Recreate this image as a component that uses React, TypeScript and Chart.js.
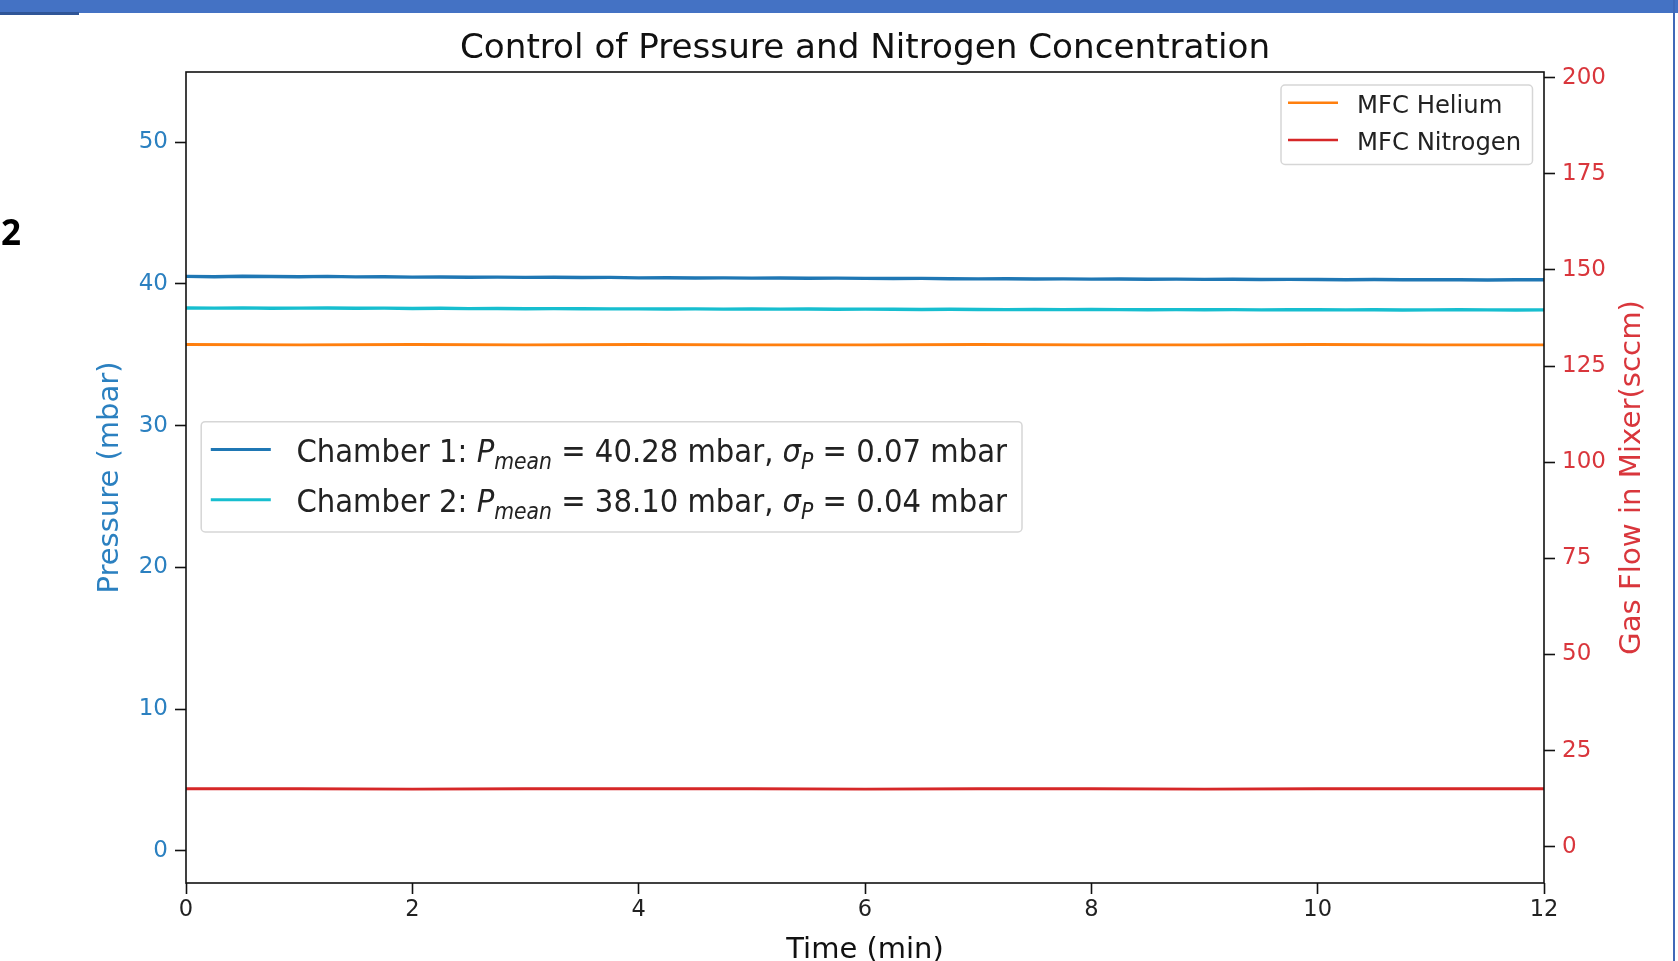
import React, { useEffect, useRef } from "react";
import { Chart, registerables } from "chart.js";

Chart.register(...registerables);

// ---------- data ----------
const chamberTimes = [
  0, 0.25, 0.5, 0.75, 1, 1.25, 1.5, 1.75,
  2, 2.25, 2.5, 2.75, 3, 3.25, 3.5, 3.75,
  4, 4.25, 4.5, 4.75, 5, 5.25, 5.5, 5.75,
  6, 6.25, 6.5, 6.75, 7, 7.25, 7.5, 7.75,
  8, 8.25, 8.5, 8.75, 9, 9.25, 9.5, 9.75,
  10, 10.25, 10.5, 10.75, 11, 11.25, 11.5, 11.75,
  12,
];
const chamber1Pressure = [
  40.52, 40.5, 40.53, 40.51, 40.5, 40.52, 40.49, 40.5,
  40.47, 40.48, 40.46, 40.47, 40.45, 40.46, 40.44, 40.45,
  40.42, 40.43, 40.41, 40.42, 40.4, 40.41, 40.39, 40.4,
  40.38, 40.37, 40.38, 40.36, 40.35, 40.36, 40.34, 40.35,
  40.33, 40.34, 40.32, 40.33, 40.31, 40.32, 40.3, 40.31,
  40.3, 40.29, 40.3, 40.28, 40.29, 40.28, 40.27, 40.28,
  40.28,
];
const chamber2Pressure = [
  38.29, 38.28, 38.3, 38.27, 38.28, 38.29, 38.27, 38.28,
  38.26, 38.27, 38.25, 38.26, 38.24, 38.25, 38.24, 38.23,
  38.23, 38.22, 38.23, 38.21, 38.22, 38.21, 38.22, 38.2,
  38.21, 38.2, 38.19, 38.2, 38.19, 38.18, 38.19, 38.18,
  38.19, 38.18, 38.17, 38.18, 38.17, 38.18, 38.16, 38.17,
  38.17, 38.16, 38.17, 38.15, 38.16, 38.17, 38.16, 38.15,
  38.16,
];
const mfcTimes = [0, 1, 2, 3, 4, 5, 6, 7, 8, 9, 10, 11, 12];
const mfcHelium = [130.6, 130.5, 130.6, 130.5, 130.6, 130.5, 130.5, 130.6, 130.5, 130.5, 130.6, 130.5, 130.5];
const mfcNitrogen = [15.1, 15.1, 15.0, 15.1, 15.1, 15.1, 15.0, 15.1, 15.1, 15.0, 15.1, 15.1, 15.1];

const chamberMeans = [40.28, 38.1];
const chamberStd = [0.07, 0.04];
const chamberNames = ["Chamber 1", "Chamber 2"];
const mfcNames = ["MFC Helium", "MFC Nitrogen"];

const xTicks = [0, 2, 4, 6, 8, 10, 12];
const leftTicks = [0, 10, 20, 30, 40, 50];
const rightTicks = [0, 25, 50, 75, 100, 125, 150, 175, 200];

const TITLE = "Control of Pressure and Nitrogen Concentration";
const X_TITLE = "Time (min)";
const Y_LEFT_TITLE = "Pressure (mbar)";
const Y_RIGHT_TITLE = "Gas Flow in Mixer(sccm)";

// ---------- styles ----------
const C1 = "#1f77b4";
const C2 = "#17becf";
const CHE = "#ff7f0e";
const CN2 = "#d62728";
const BLUE_TXT = "#2b80c0";
const RED_TXT = "#d9363c";
const FONT = "'DejaVu Sans'";
const COND = "'DejaVu Sans Condensed', 'DejaVu Sans'";

type Seg = { t: string; it?: boolean; sub?: boolean };

function drawRich(ctx: CanvasRenderingContext2D, segs: Seg[], x: number, y: number, size: number, targetW: number) {
  const fontFor = (s: Seg) => `${s.it ? "italic " : ""}${s.sub ? size * 0.7 : size}px ${COND}`;
  let total = 0;
  for (const s of segs) {
    ctx.font = fontFor(s);
    total += ctx.measureText(s.t).width;
  }
  const sx = targetW / total;
  ctx.save();
  ctx.translate(x, y);
  ctx.scale(sx, 1);
  let cx = 0;
  ctx.textAlign = "left";
  ctx.textBaseline = "alphabetic";
  for (const s of segs) {
    ctx.font = fontFor(s);
    ctx.fillText(s.t, cx, s.sub ? size * 0.22 : 0);
    cx += ctx.measureText(s.t).width;
  }
  ctx.restore();
}

function legendBox(ctx: CanvasRenderingContext2D, x0: number, y0: number, x1: number, y1: number) {
  ctx.save();
  ctx.beginPath();
  (ctx as any).roundRect(x0, y0, x1 - x0, y1 - y0, 4);
  ctx.fillStyle = "rgba(255,255,255,0.85)";
  ctx.fill();
  ctx.strokeStyle = "#d6d6d6";
  ctx.lineWidth = 1.5;
  ctx.stroke();
  ctx.restore();
}

const overlayPlugin = {
  id: "overlay",
  afterDraw(chart: any) {
    const ctx: CanvasRenderingContext2D = chart.ctx;
    const a = chart.chartArea;
    const midX = (a.left + a.right) / 2;
    const midY = (a.top + a.bottom) / 2;
    const ds = chart.data.datasets;
    ctx.save();
    // frame
    ctx.strokeStyle = "#111";
    ctx.lineWidth = 1.6;
    ctx.strokeRect(a.left, a.top, a.right - a.left, a.bottom - a.top);

    // title & axis titles
    ctx.fillStyle = "#111";
    ctx.textAlign = "center";
    ctx.textBaseline = "alphabetic";
    ctx.font = `34.2px ${FONT}`;
    ctx.fillText(TITLE, midX, 57.5);
    ctx.font = `29px ${FONT}`;
    ctx.fillText(X_TITLE, midX, 957.5);

    ctx.save();
    ctx.translate(118, midY);
    ctx.rotate(-Math.PI / 2);
    ctx.fillStyle = BLUE_TXT;
    ctx.font = `29px ${FONT}`;
    ctx.fillText(Y_LEFT_TITLE, 0, 0);
    ctx.restore();

    ctx.save();
    ctx.translate(1639.5, midY);
    ctx.rotate(-Math.PI / 2);
    ctx.fillStyle = RED_TXT;
    ctx.font = `29.2px ${FONT}`;
    ctx.fillText(Y_RIGHT_TITLE, 0, 0);
    ctx.restore();

    // MFC legend (top right)
    legendBox(ctx, 1281, 85, 1532.5, 164.5);
    const mfcRows = [102.7, 140];
    const mfcBase = [113.3, 150];
    for (let i = 0; i < 2; i++) {
      ctx.strokeStyle = ds[2 + i].borderColor;
      ctx.lineWidth = 2.6;
      ctx.beginPath();
      ctx.moveTo(1288, mfcRows[i]);
      ctx.lineTo(1338, mfcRows[i]);
      ctx.stroke();
      ctx.fillStyle = "#222";
      ctx.textAlign = "left";
      ctx.font = `24.3px ${FONT}`;
      ctx.fillText(mfcNames[i], 1357, mfcBase[i]);
    }

    // Chamber legend (middle left)
    legendBox(ctx, 201.2, 421.7, 1022, 532);
    const chRows = [449.5, 499.8];
    const chBase = [461.5, 512];
    for (let i = 0; i < 2; i++) {
      ctx.strokeStyle = ds[i].borderColor;
      ctx.lineWidth = 3;
      ctx.beginPath();
      ctx.moveTo(210.8, chRows[i]);
      ctx.lineTo(270.8, chRows[i]);
      ctx.stroke();
      ctx.fillStyle = "#222";
      const segs: Seg[] = [
        { t: `${chamberNames[i]}: ` },
        { t: "P", it: true },
        { t: "mean", it: true, sub: true },
        { t: ` = ${chamberMeans[i].toFixed(2)} mbar, ` },
        { t: "σ", it: true },
        { t: "P", it: true, sub: true },
        { t: ` = ${chamberStd[i].toFixed(2)} mbar` },
      ];
      drawRich(ctx, segs, 296.4, chBase[i], 32, 710.6);
    }
    ctx.restore();
  },
};

function toPoints(xs: number[], ys: number[]) {
  return xs.map((x, i) => ({ x, y: ys[i] }));
}

export default function App() {
  const ref = useRef<HTMLCanvasElement | null>(null);
  useEffect(() => {
    if (!ref.current) return;
    const chart = new Chart(ref.current, {
      type: "line",
      data: {
        datasets: [
          { label: chamberNames[0], data: toPoints(chamberTimes, chamber1Pressure), borderColor: C1, borderWidth: 3.4, pointRadius: 0, yAxisID: "y", tension: 0 },
          { label: chamberNames[1], data: toPoints(chamberTimes, chamber2Pressure), borderColor: C2, borderWidth: 3.4, pointRadius: 0, yAxisID: "y", tension: 0 },
          { label: mfcNames[0], data: toPoints(mfcTimes, mfcHelium), borderColor: CHE, borderWidth: 2.8, pointRadius: 0, yAxisID: "y1", tension: 0 },
          { label: mfcNames[1], data: toPoints(mfcTimes, mfcNitrogen), borderColor: CN2, borderWidth: 2.8, pointRadius: 0, yAxisID: "y1", tension: 0 },
        ],
      },
      options: {
        animation: false,
        responsive: false,
        devicePixelRatio: 1,
        events: [],
        layout: { padding: { top: 72, left: 0, right: 0, bottom: 0 } },
        plugins: { legend: { display: false }, title: { display: false }, tooltip: { enabled: false } },
        scales: {
          x: {
            type: "linear",
            min: 0,
            max: 12,
            afterBuildTicks: (s: any) => { s.ticks = xTicks.map((v) => ({ value: v })); },
            afterFit: (s: any) => { s.height = 78; },
            grid: { drawOnChartArea: false, drawTicks: true, tickLength: 11, tickColor: "#111", tickWidth: 1.6 },
            border: { display: false },
            ticks: { color: "#222", font: { family: "DejaVu Sans", size: 22.5 }, padding: 3, maxRotation: 0, autoSkip: false },
          },
          y: {
            type: "linear",
            position: "left",
            min: -2.27,
            max: 54.94,
            afterBuildTicks: (s: any) => { s.ticks = leftTicks.map((v) => ({ value: v })); },
            afterFit: (s: any) => { s.width = 186; },
            grid: { drawOnChartArea: false, drawTicks: true, tickLength: 11, tickColor: "#111", tickWidth: 1.6 },
            border: { display: false },
            ticks: { color: BLUE_TXT, font: { family: "DejaVu Sans", size: 23 }, padding: 7, autoSkip: false },
          },
          y1: {
            type: "linear",
            position: "right",
            min: -9.4,
            max: 201.45,
            afterBuildTicks: (s: any) => { s.ticks = rightTicks.map((v) => ({ value: v })); },
            afterFit: (s: any) => { s.width = 134; },
            grid: { drawOnChartArea: false, drawTicks: true, tickLength: 11, tickColor: "#111", tickWidth: 1.6 },
            border: { display: false },
            ticks: { color: RED_TXT, font: { family: "DejaVu Sans", size: 23 }, padding: 7, autoSkip: false },
          },
        },
      } as any,
      plugins: [overlayPlugin],
    });
    return () => chart.destroy();
  }, []);

  return (
    <div style={{ position: "absolute", left: 0, top: 0, width: 1678, height: 961, background: "#fff", overflow: "hidden" }}>
      <canvas ref={ref} width={1678} height={961} style={{ position: "absolute", left: 0, top: 0, display: "block" }} />
      <div style={{ position: "absolute", left: 0, top: 0, width: 1678, height: 13, background: "#4472c4" }} />
      <div style={{ position: "absolute", left: 0, top: 12, width: 79, height: 3, background: "#2f5597" }} />
      <div style={{ position: "absolute", left: 1673, top: 0, width: 2, height: 961, background: "#4068b8" }} />
      <div style={{ position: "absolute", left: 1, top: 212, fontFamily: "'Open Sans', sans-serif", fontWeight: 700, fontSize: 35, lineHeight: "40px", color: "#000" }}>2</div>
    </div>
  );
}
